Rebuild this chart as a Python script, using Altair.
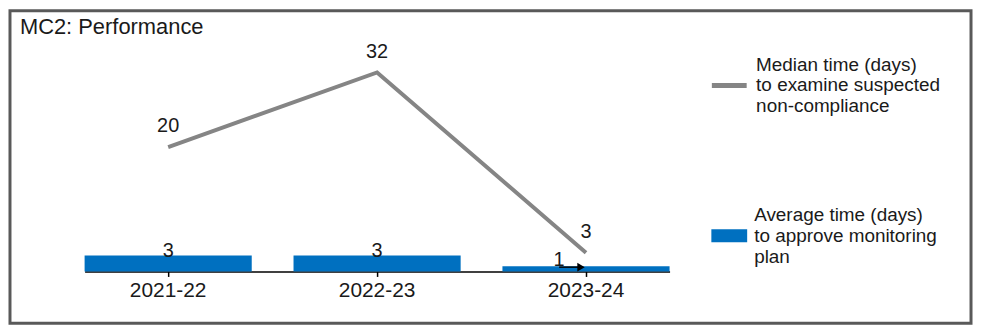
import altair as alt
import pandas as pd

# ---- data ----
years = ["2021-22", "2022-23", "2023-24"]
median_days = [20, 32, 3]
average_days = [3, 3, 1]
median_name = "Median time (days)|to examine suspected|non-compliance"
average_name = "Average time (days)|to approve monitoring|plan"
chart_title = "MC2: Performance"

df = pd.DataFrame({
    "year": years,
    "median": median_days,
    "average": average_days,
    "mseries": [median_name] * 3,
    "aseries": [average_name] * 3,
})

FONT = "Liberation Sans"
TXT = "#1a1a1a"
W, H = 966, 314

x_scale = alt.Scale(domain=years, range=[75, 663], paddingInner=0.2, paddingOuter=0)
x_axis = alt.Axis(title=None, orient="bottom", offset=-52, domainColor="black",
                  domainWidth=1.5, tickColor="black", tickWidth=1.5, tickSize=5,
                  labelFontSize=21, labelColor=TXT, labelFont=FONT, labelPadding=3,
                  labelAngle=0, grid=False)
X = alt.X("year:N", scale=x_scale, axis=x_axis, sort=years)

bar_y = alt.Scale(domain=[0, 37.5], range=[262, 62], nice=False, zero=True)
line_y = alt.Scale(domain=[0, 32], range=[262, 62], nice=False, zero=True)

bars = alt.Chart(df).mark_bar().encode(
    x=X,
    y=alt.Y("average:Q", scale=bar_y, axis=None),
    fill=alt.Fill("aseries:N", scale=alt.Scale(range=["#0070C0"]),
                  legend=alt.Legend(title=None, orient="none", legendX=705, legendY=187,
                                    symbolType="M-1,0.81H1V1.53H-1Z", symbolSize=1296,
                                    symbolStrokeWidth=0, labelOffset=7, labelLimit=0,
                                    labelFontSize=19, labelFont=FONT, labelColor=TXT,
                                    padding=0, labelExpr="split(datum.label, '|')")),
)

bar_labels_a = alt.Chart(df).transform_filter(alt.datum.year != years[2]).mark_text(
    baseline="alphabetic", fontSize=20, font=FONT, color=TXT, dy=1
).encode(x=X, y=alt.Y("average:Q", scale=bar_y, axis=None), text="average:Q")

bar_labels_b = alt.Chart(df).transform_filter(alt.datum.year == years[2]).mark_text(
    baseline="alphabetic", fontSize=20, font=FONT, color=TXT, dx=-27, dy=0
).encode(x=X, y=alt.Y("average:Q", scale=bar_y, axis=None), text="average:Q")

# small leader arrow next to the last bar label
leader = alt.Chart(df).transform_filter(alt.datum.year == years[2]).mark_rule(
    color="black", strokeWidth=1.5, xOffset=-27, x2Offset=-7, yOffset=1, y2Offset=1
).encode(x=X, x2="year:N", y=alt.Y("average:Q", scale=bar_y, axis=None))

leader_head = alt.Chart(df).transform_filter(alt.datum.year == years[2]).mark_point(
    shape="triangle-right", filled=True, color="black", size=75, opacity=1,
    xOffset=-5, yOffset=1
).encode(x=X, y=alt.Y("average:Q", scale=bar_y, axis=None))

line = alt.Chart(df).mark_line(strokeWidth=4).encode(
    x=X,
    y=alt.Y("median:Q", scale=line_y, axis=None),
    stroke=alt.Stroke("mseries:N", scale=alt.Scale(range=["#858585"]),
                      legend=alt.Legend(title=None, orient="none", legendX=703, legendY=34,
                                        symbolType="M-1,1.2H1", symbolSize=1225,
                                        symbolStrokeWidth=5, labelOffset=7, labelLimit=0,
                                        labelFontSize=19, labelFont=FONT, labelColor=TXT,
                                        padding=0, labelExpr="split(datum.label, '|')")),
)

line_labels = alt.Chart(df).mark_text(
    baseline="alphabetic", fontSize=20, font=FONT, color=TXT, dy=-15
).encode(x=X, y=alt.Y("median:Q", scale=line_y, axis=None), text="median:Q")

title = alt.Chart(pd.DataFrame({"t": [chart_title]})).mark_text(
    align="left", baseline="alphabetic", fontSize=22, font=FONT, color=TXT
).encode(x=alt.value(10), y=alt.value(23), text="t:N")

chart = alt.layer(bars, bar_labels_a, bar_labels_b, leader, leader_head,
                  line, line_labels, title).resolve_scale(
    y="independent"
).properties(
    width=W, height=H,
    padding={"left": 2, "top": 2, "right": 2, "bottom": 2},
    autosize=alt.AutoSizeParams(type="none"),
    background="white",
).configure_view(stroke="#595959", strokeWidth=3, fill="white")

chart.save("out.html", embed_options={"renderer": "svg", "actions": False})
